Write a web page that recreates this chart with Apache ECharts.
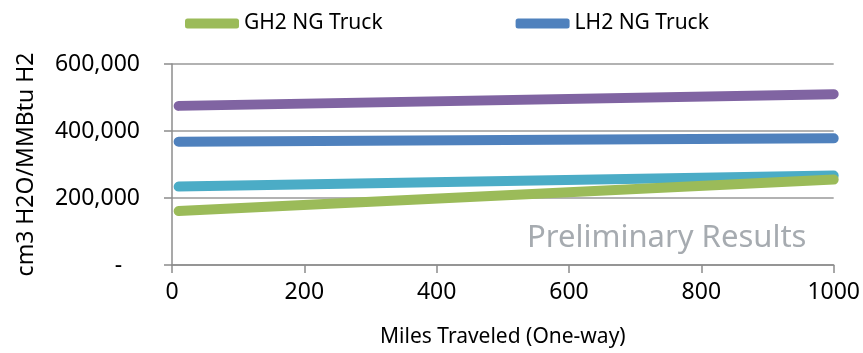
<!DOCTYPE html>
<html>
<head>
<meta charset="utf-8">
<script src="https://cdn.jsdelivr.net/npm/echarts@6/dist/echarts.min.js"></script>
<style>
  html, body { margin: 0; padding: 0; background: #fff; }
  #chart { width: 863px; height: 353px; }
</style>
</head>
<body>
<div id="chart"></div>
<script>
// miles traveled (one-way)
const miles = [10, 1000];

// cm3 H2O / MMBtu H2
const gh2Truck = [161000, 255000];
const lh2Truck = [368000, 378000];
const purpleSeries = [475000, 510000];
const cyanSeries = [234000, 267000];

const legendNames = ['GH2 NG Truck', 'LH2 NG Truck'];

const FONT = 'Noto Sans';

const chart = echarts.init(document.getElementById('chart'));

const toPairs = (vals) => miles.map((m, i) => [m, vals[i]]);

const lineSeries = (name, vals, color) => ({
  name,
  type: 'line',
  data: toPairs(vals),
  showSymbol: false,
  symbol: 'none',
  lineStyle: { width: 10, color, cap: 'round' },
  itemStyle: { color },
  animation: false,
});

const option = {
  legend: {
    data: legendNames,
    left: 180,
    top: 8,
    icon: 'roundRect',
    itemWidth: 54,
    itemHeight: 10,
    itemGap: 133,
    textStyle: { fontFamily: FONT, fontSize: 21, color: '#000' },
  },
  grid: {
    left: 172,
    right: 29,
    top: 64,
    bottom: 84,
  },
  xAxis: {
    type: 'value',
    min: 0,
    max: 1000,
    interval: 200,
    name: 'Miles Traveled (One-way)',
    nameLocation: 'middle',
    nameGap: 62,
    nameTextStyle: { fontFamily: FONT, fontSize: 21, color: '#000' },
    axisLine: { show: true, lineStyle: { color: '#8c8c8c', width: 1.5 } },
    axisTick: { show: true, length: 8, lineStyle: { color: '#8c8c8c', width: 1.5 } },
    axisLabel: {
      fontFamily: FONT,
      fontSize: 23,
      color: '#000',
      margin: 16,
      formatter: (v) => String(v),
    },
    splitLine: { show: false },
  },
  yAxis: {
    type: 'value',
    min: 0,
    max: 600000,
    interval: 200000,
    name: 'cm3 H2O/MMBtu H2',
    nameLocation: 'middle',
    nameGap: 134,
    nameTextStyle: { fontFamily: FONT, fontSize: 23, color: '#000' },
    axisLine: { show: true, lineStyle: { color: '#8c8c8c', width: 1.5 } },
    axisTick: { show: true, inside: false, length: 8, lineStyle: { color: '#8c8c8c', width: 1.5 } },
    axisLabel: {
      fontFamily: FONT,
      fontSize: 23,
      color: '#000',
      margin: 32,
      formatter: (v) => (v === 0 ? '-   ' : v.toLocaleString('en-US')),
    },
    splitLine: { show: true, lineStyle: { color: '#999', width: 1.5 } },
  },
  graphic: [
    {
      type: 'text',
      left: 527,
      top: 223,
      style: {
        text: 'Preliminary Results',
        fontFamily: FONT,
        fontSize: 31,
        fill: '#a6abb0',
      },
      z: 100,
    },
  ],
  series: [
    lineSeries('Purple', purpleSeries, '#8064a2'),
    lineSeries('LH2 NG Truck', lh2Truck, '#4f81bd'),
    lineSeries('Cyan', cyanSeries, '#4bacc6'),
    lineSeries('GH2 NG Truck', gh2Truck, '#9bbb59'),
  ],
};

chart.setOption(option);
</script>
</body>
</html>
